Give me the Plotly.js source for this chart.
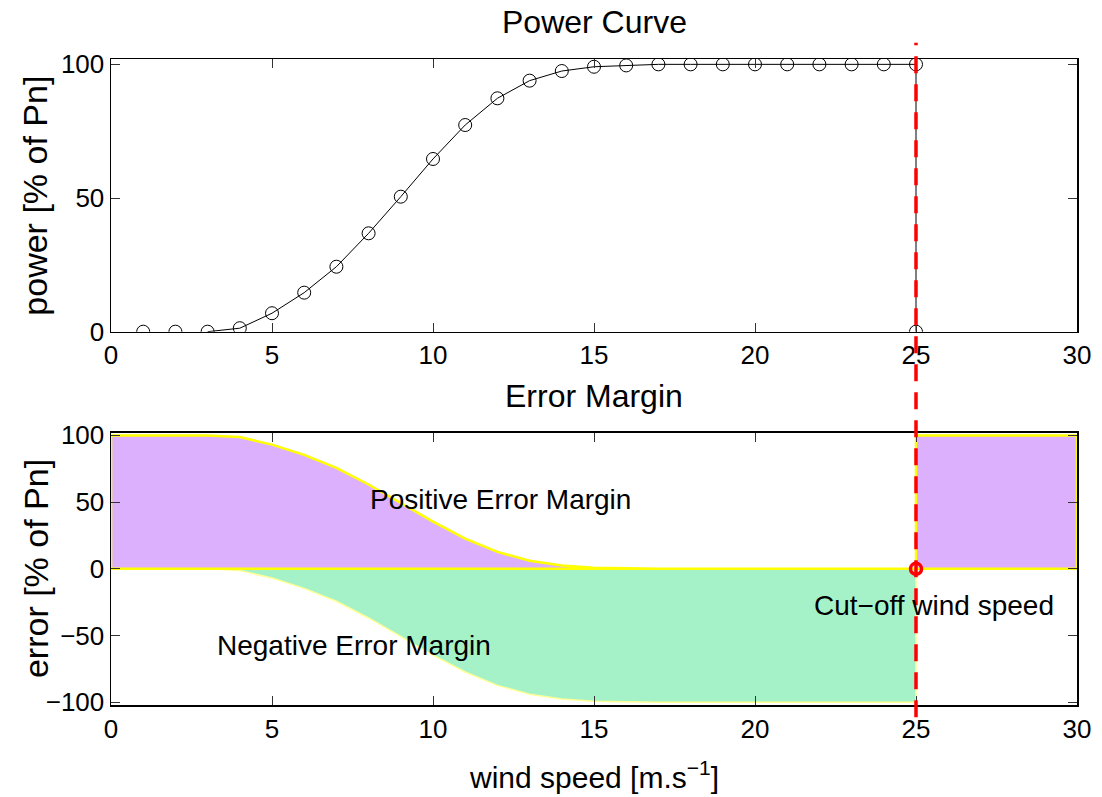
<!DOCTYPE html>
<html>
<head>
<meta charset="utf-8">
<script src="https://cdn.plot.ly/plotly-3.0.1.min.js"></script>
<style>html,body{margin:0;padding:0;background:#fff;}#chart{width:1102px;height:797px;}</style>
</head>
<body>
<div id="chart"></div>
<script>
// ---- data ----
const windSpeed = [1,2,3,4,5,6,7,8,9,10,11,12,13,14,15,16,17,18,19,20,21,22,23,24,25];
const power = [0,0,0,1.3,6.9,14.6,24.3,36.8,50.5,64.6,77.3,87.3,93.9,97.5,99.1,99.6,100,100,100,100,100,100,100,100,100];
const cutInSpeed = 3;
const cutOffSpeed = 25;
const marginSpeed = [0,1,2,3,4,5,6,7,8,9,10,11,12,13,14,15,16,17,18,19,20,21,22,23,24,25];
const posMargin = [100,100,100,100,98.7,93.1,85.4,75.7,63.2,49.5,35.4,22.7,12.7,6.1,2.5,0.9,0.4,0,0,0,0,0,0,0,0,0];
const negMargin = [0,0,0,0,-1.3,-6.9,-14.6,-24.3,-36.8,-50.5,-64.6,-77.3,-87.3,-93.9,-97.5,-99.1,-99.6,-100,-100,-100,-100,-100,-100,-100,-100,-100];
const maxSpeed = 30;
const xTicks = [0,5,10,15,20,25,30];
const yTicksTop = [0,50,100];
const yTicksBottom = [-100,-50,0,50,100];

// ---- build traces ----
const ci = windSpeed.indexOf(cutInSpeed);
const lineX = windSpeed.slice(ci).concat([cutOffSpeed]);
const lineY = power.slice(ci).concat([0]);

const posX = [0].concat(marginSpeed, [cutOffSpeed, maxSpeed, maxSpeed, 0]);
const posY = [0].concat(posMargin, [100, 100, 0, 0]);
const negX = [0].concat(marginSpeed, [cutOffSpeed, 0]);
const negY = [0].concat(negMargin, [0, 0]);

const FONT = '"Liberation Sans", Arial, Helvetica, sans-serif';

const traces = [
  {x: lineX, y: lineY, mode: 'lines', line: {color: '#000', width: 1}, xaxis: 'x', yaxis: 'y', hoverinfo: 'skip'},
  {x: windSpeed.concat([cutOffSpeed]), y: power.concat([0]), mode: 'markers',
   marker: {symbol: 'circle-open', size: 13, color: '#000', line: {width: 1, color: '#000'}}, xaxis: 'x', yaxis: 'y'},
  {x: negX, y: negY, mode: 'lines', fill: 'toself', fillcolor: 'rgb(166,242,200)',
   line: {color: 'rgb(255,255,150)', width: 1.5}, xaxis: 'x2', yaxis: 'y2'},
  {x: posX, y: posY, mode: 'lines', fill: 'toself', fillcolor: 'rgb(221,176,253)',
   line: {color: 'rgb(255,255,0)', width: 2.5}, xaxis: 'x2', yaxis: 'y2'},
  {x: [cutOffSpeed], y: [0], mode: 'markers',
   marker: {symbol: 'circle-open', size: 11, color: 'red', line: {width: 3.5, color: 'red'}}, xaxis: 'x2', yaxis: 'y2'}
];

const axisCommon = {
  showline: true, linecolor: '#000', linewidth: 1.5, mirror: 'ticks',
  ticks: 'inside', ticklen: 9, tickwidth: 1, tickcolor: '#333',
  showgrid: false, zeroline: false,
  tickfont: {family: FONT, size: 26, color: '#000'}
};

const layout = {
  width: 1102, height: 797,
  margin: {l: 110.7, r: 25, t: 59, b: 92},
  paper_bgcolor: '#fff', plot_bgcolor: '#fff',
  showlegend: false,
  font: {family: FONT, size: 26, color: '#000'},
  xaxis: Object.assign({}, axisCommon, {domain: [0, 1], range: [0, maxSpeed], tickvals: xTicks, anchor: 'y'}),
  yaxis: Object.assign({}, axisCommon, {domain: [0.5779, 1], range: [0, 102], tickvals: yTicksTop, anchor: 'x'}),
  xaxis2: Object.assign({}, axisCommon, {domain: [0, 1], range: [0, maxSpeed], tickvals: xTicks, anchor: 'y2'}),
  yaxis2: Object.assign({}, axisCommon, {domain: [0, 0.4215], range: [-102, 102], tickvals: yTicksBottom, anchor: 'x2',
    ticktext: yTicksBottom.map(v => v < 0 ? '\u2212' + Math.abs(v) : String(v))}),
  shapes: [
    {type: 'line', xref: 'x', yref: 'paper', x0: cutOffSpeed, x1: cutOffSpeed, y0: -0.019, y1: 1.025,
     line: {color: 'red', width: 3.5, dash: '17px,11px'}, layer: 'above'}
  ],
  annotations: [
    {text: 'Power Curve', xref: 'paper', yref: 'paper', x: 0.5, y: 1.058, xanchor: 'center', yanchor: 'middle', showarrow: false, font: {size: 32}},
    {text: 'Error Margin', xref: 'paper', yref: 'paper', x: 0.5, y: 0.478, xanchor: 'center', yanchor: 'middle', showarrow: false, font: {size: 32}},
    {text: 'power [% of Pn]', xref: 'paper', yref: 'paper', x: -0.0783, y: 0.789, textangle: -90, xanchor: 'center', yanchor: 'middle', showarrow: false, font: {size: 34}},
    {text: 'error [% of Pn]', xref: 'paper', yref: 'paper', x: -0.0783, y: 0.211, textangle: -90, xanchor: 'center', yanchor: 'middle', showarrow: false, font: {size: 34}},
    {text: 'wind speed [m.s<sup>\u22121</sup>]', xref: 'paper', yref: 'paper', x: 0.5, y: -0.108, xanchor: 'center', yanchor: 'middle', showarrow: false, font: {size: 30}},
    {text: 'Positive Error Margin', xref: 'x2', yref: 'y2', x: 12.1, y: 52, xanchor: 'center', yanchor: 'middle', showarrow: false, font: {size: 28}},
    {text: 'Negative Error Margin', xref: 'x2', yref: 'y2', x: 7.55, y: -57.5, xanchor: 'center', yanchor: 'middle', showarrow: false, font: {size: 28}},
    {text: 'Cut\u2212off wind speed', xref: 'x2', yref: 'y2', x: 25.55, y: -27.5, xanchor: 'center', yanchor: 'middle', showarrow: false, font: {size: 28}}
  ]
};

Plotly.newPlot('chart', traces, layout, {displayModeBar: false, staticPlot: true});
</script>
</body>
</html>
